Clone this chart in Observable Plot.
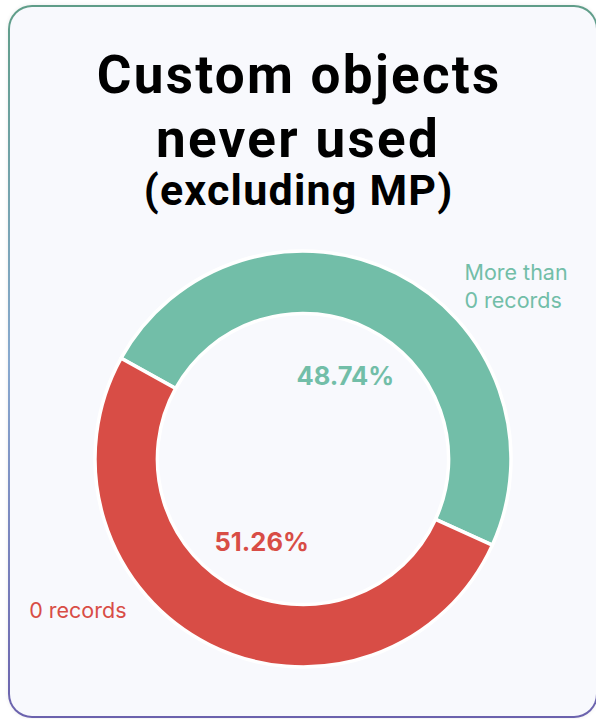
<!DOCTYPE html>
<html><head><meta charset="utf-8">
<script src="https://cdn.jsdelivr.net/npm/d3@7"></script>
<script src="https://cdn.jsdelivr.net/npm/@observablehq/plot@0.6"></script>
<style>
html,body{margin:0;padding:0;background:#fff;width:596px;height:719px;overflow:hidden;position:relative}
.card{position:absolute;left:8px;top:5px;width:590px;height:713px;border-radius:24px;padding:2px;box-sizing:border-box;
  background:linear-gradient(180deg,#5f9d88 0%,#88a9cf 50%,#6b62ad 100%);box-shadow:0 0 4px rgba(0,0,0,0.08)}
.inner{width:100%;height:100%;border-radius:22px;background:#f8f9fd}
.title{position:absolute;left:0;width:596px;text-align:center;font-family:Roboto,"DejaVu Sans",sans-serif;font-weight:700;color:#000;margin:0}
#t1{top:43px;font-size:53px;line-height:64px;letter-spacing:2.3px;text-indent:2.3px}
#t2{top:166px;font-size:43px;line-height:48px;letter-spacing:1.2px;text-indent:1.2px}
#chart{position:absolute;left:0;top:230px}
</style></head>
<body>
<div class="card"><div class="inner"></div></div>
<div class="title" id="t1">Custom objects<br>never used</div>
<div class="title" id="t2">(excluding MP)</div>
<div id="chart"></div>
<script>
const categories = ["More than 0 records", "0 records"];
const values = [48.74, 51.26];
const percentLabels = ["48.74%", "51.26%"];
const outerLabels = ["More than\n0 records", "0 records"];
const colors = ["#72bea8", "#d84d46"];

const pie = d3.pie().sort(null).value(d => d)
  .startAngle(-61 * Math.PI / 180).endAngle(299 * Math.PI / 180)(values);
const rows = categories.map((c, i) => ({
  category: c, value: values[i], pct: percentLabels[i], outer: outerLabels[i],
  a0: pie[i].startAngle, a1: pie[i].endAngle, mid: (pie[i].startAngle + pie[i].endAngle) / 2
}));

function donut(index, scales) {
  const {x, y, color} = scales;
  const cx = x(0), cy = y(0), R = x(1) - x(0);
  const arc = d3.arc().innerRadius(R * 0.70).outerRadius(R);
  const g = d3.create("svg:g").attr("transform", `translate(${cx},${cy})`);
  g.selectAll("path").data(rows).join("path")
    .attr("d", d => arc({startAngle: d.a0, endAngle: d.a1}))
    .attr("fill", (d, i) => color ? color(d.category) : colors[i])
    .attr("stroke", "#ffffff").attr("stroke-width", 3.5).attr("stroke-linejoin", "miter");
  return g.node();
}

const chart = Plot.plot({
  width: 596, height: 480,
  marginLeft: 95, marginRight: 85, marginTop: 21, marginBottom: 43,
  x: {domain: [-1, 1], axis: null},
  y: {domain: [-1, 1], axis: null},
  color: {domain: categories, range: colors},
  style: {background: "transparent", overflow: "visible"},
  marks: [
    donut,
    Plot.text(rows, {x: d => 0.447 * Math.sin(d.mid), y: d => 0.447 * Math.cos(d.mid), text: "pct", fill: "category",
      fontSize: 25.5, fontWeight: 700, fontFamily: "Inter"}),
    Plot.text(rows.filter(d => d.category === categories[0]), {x: () => 0.774, y: () => 0.84, text: "outer", fill: "category",
      textAnchor: "start", fontSize: 21.5, fontFamily: "Inter", lineHeight: 1.32}),
    Plot.text(rows.filter(d => d.category === categories[1]), {x: () => -0.851, y: () => -0.716, text: "outer", fill: "category",
      textAnchor: "end", fontSize: 21.5, fontFamily: "Inter", lineHeight: 1.32})
  ]
});
document.getElementById("chart").appendChild(chart);
</script>
</body></html>
